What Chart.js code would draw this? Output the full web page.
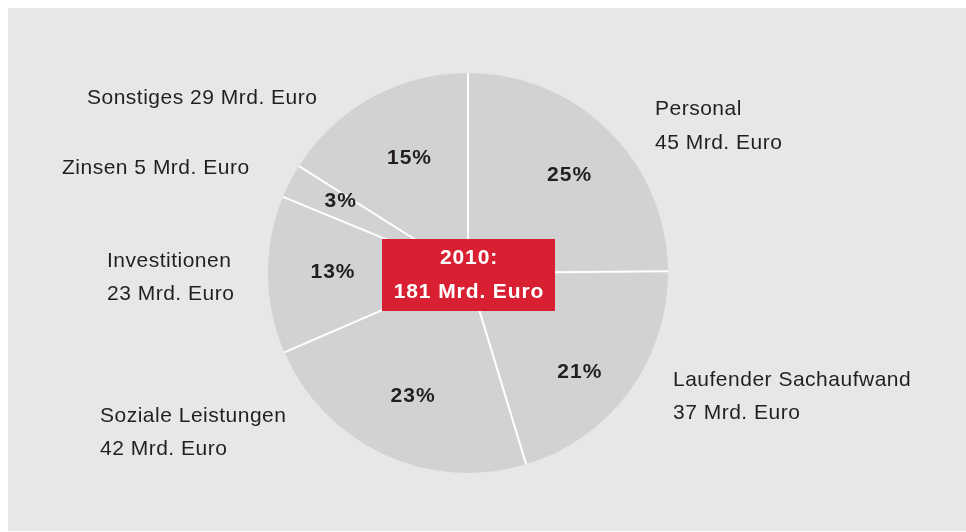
<!DOCTYPE html>
<html>
<head>
<meta charset="utf-8">
<script src="https://cdn.jsdelivr.net/npm/chart.js@4.4.1/dist/chart.umd.min.js"></script>
<style>
  html, body { margin: 0; padding: 0; background: #ffffff; }
  body { width: 966px; height: 532px; position: relative; overflow: hidden; }
  .panel { position: absolute; left: 8px; top: 8px; width: 958px; height: 523px; background: #e6e7e8; }
  canvas { display: block; }
</style>
</head>
<body>
<div class="panel"><canvas id="chart" width="958" height="523"></canvas></div>
<script>
// Ausgaben 2010, in Mrd. Euro (clockwise from 12 o'clock)
const categories = ["Personal", "Laufender Sachaufwand", "Soziale Leistungen", "Investitionen", "Zinsen", "Sonstiges"];
const values = [45, 37, 42, 23, 5, 29];
const shareLabels = ["25%", "21%", "23%", "13%", "3%", "15%"];
const outerLabels = [
  ["Personal", "45 Mrd. Euro"],
  ["Laufender Sachaufwand", "37 Mrd. Euro"],
  ["Soziale Leistungen", "42 Mrd. Euro"],
  ["Investitionen", "23 Mrd. Euro"],
  ["Zinsen 5 Mrd. Euro"],
  ["Sonstiges 29 Mrd. Euro"]
];
const centerTitle = ["2010:", "181 Mrd. Euro"];

const TEXT = "#231f20";
const FONT = '"Liberation Sans", Arial, Helvetica, sans-serif';

// where the outside labels sit, relative to the pie centre (left x, first baseline, line step)
const outerLayout = [
  [187, -158, 34],
  [205, 113, 33],
  [-368, 148.5, 33.5],
  [-361, -6.5, 33.5],
  [-406, -99, 0],
  [-381, -169, 0]
];
// small nudges for the percentages placed at 0.7 r on each slice's middle angle
const shareNudge = [[3, 0], [-1, 15], [4, -5], [5, -4], [-3, -9], [9, 6]];

const pieText = {
  id: "pieText",
  afterDatasetsDraw(chart) {
    const ctx = chart.ctx;
    const arcs = chart.getDatasetMeta(0).data;
    const cx = arcs[0].x, cy = arcs[0].y, r = arcs[0].outerRadius;
    ctx.save();

    // white separators between the slices
    ctx.strokeStyle = "#ffffff";
    ctx.lineWidth = 2;
    arcs.forEach(a => {
      ctx.beginPath();
      ctx.moveTo(cx, cy);
      ctx.lineTo(cx + Math.cos(a.startAngle) * r, cy + Math.sin(a.startAngle) * r);
      ctx.stroke();
    });

    // red total box in the middle
    ctx.fillStyle = "#d82032";
    ctx.fillRect(cx - 86, cy - 34, 173, 72);
    ctx.fillStyle = "#ffffff";
    ctx.font = "bold 21px " + FONT;
    ctx.letterSpacing = "0.9px";
    ctx.textAlign = "center";
    ctx.textBaseline = "alphabetic";
    ctx.fillText(centerTitle[0], cx + 1, cy - 8.7);
    ctx.fillText(centerTitle[1], cx + 1, cy + 25.3);

    // percentages inside the slices
    ctx.fillStyle = TEXT;
    ctx.letterSpacing = "1px";
    arcs.forEach((a, i) => {
      const mid = (a.startAngle + a.endAngle) / 2;
      const x = cx + Math.cos(mid) * r * 0.7 + shareNudge[i][0];
      const y = cy + Math.sin(mid) * r * 0.7 + shareNudge[i][1];
      ctx.fillText(shareLabels[i], x, y + 7.3);
    });

    // category labels outside the pie
    ctx.font = "21px " + FONT;
    ctx.letterSpacing = "0.5px";
    ctx.textAlign = "left";
    outerLabels.forEach((lines, i) => {
      const [dx, dy, step] = outerLayout[i];
      lines.forEach((t, j) => ctx.fillText(t, cx + dx, cy + dy + j * step));
    });

    ctx.restore();
  }
};

new Chart(document.getElementById("chart"), {
  type: "pie",
  data: {
    labels: categories,
    datasets: [{
      data: values,
      backgroundColor: "#d1d2d4",
      borderWidth: 0,
      hoverOffset: 0
    }]
  },
  options: {
    responsive: false,
    animation: false,
    layout: {
      padding: { left: 260, right: 298, top: 65, bottom: 58 }
    },
    plugins: {
      legend: { display: false },
      tooltip: { enabled: false }
    },
    events: []
  },
  plugins: [pieText]
});
</script>
</body>
</html>
